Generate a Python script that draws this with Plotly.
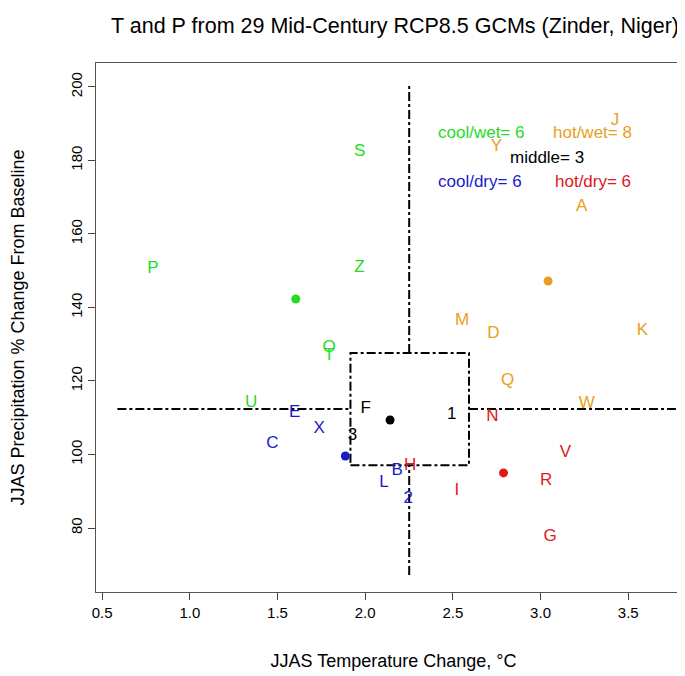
import plotly.graph_objects as go

labels = ["S","P","Z","O","T","U","E","X","C","3","F","1","B","L","2","H","I","N","V","R","G","M","D","Q","W","K","A","J","Y"]
tx = [1.968,0.789,1.968,1.795,1.795,1.35,1.598,1.737,1.471,1.928,2.003,2.494,2.182,2.107,2.246,2.257,2.523,2.725,3.142,3.032,3.055,2.552,2.731,2.812,3.263,3.581,3.234,3.425,2.749]
py = [182.3,150.5,150.8,129.0,126.8,114.0,111.3,106.9,102.8,105.0,112.4,110.7,95.5,92.2,87.9,96.9,90.1,110.2,100.4,92.8,77.6,136.3,132.8,120.0,113.7,133.6,167.3,190.7,183.7]
grp = ["cw","cw","cw","cw","cw","cw","cd","cd","cd","m","m","m","cd","cd","cd","hd","hd","hd","hd","hd","hd","hw","hw","hw","hw","hw","hw","hw","hw"]
colors = {"cw":"#22dd22","cd":"#1a1acc","hd":"#e01818","hw":"#e8a020","m":"black"}
cx = [1.604,3.043,1.887,2.789,2.142]
cy = [142.3,147.2,99.6,95.0,109.4]
cgrp = ["cw","hw","cd","hd","m"]
vline_x = 2.251; hline_y = 112.4
box_x = [1.916,2.592]; box_y = [97.1,127.6]

fig = go.Figure()
dash = dict(color="black", width=2, dash="dashdot")
lines = [([vline_x,vline_x],[box_y[1],201]),([vline_x,vline_x],[67.2,box_y[0]]),
         ([0.587,box_x[0]],[hline_y,hline_y]),([box_x[1],3.772],[hline_y,hline_y]),
         ([box_x[0],box_x[1],box_x[1],box_x[0],box_x[0]],[box_y[0],box_y[0],box_y[1],box_y[1],box_y[0]])]
for lx, ly in lines:
    fig.add_trace(go.Scatter(x=lx, y=ly, mode="lines", line=dash, hoverinfo="skip"))
fig.add_trace(go.Scatter(x=tx, y=py, mode="text", text=labels,
    textfont=dict(size=17, color=[colors[g] for g in grp], family="Liberation Sans")))
fig.add_trace(go.Scatter(x=cx, y=cy, mode="markers",
    marker=dict(size=9, color=[colors[g] for g in cgrp])))
summ = [("cool/wet= 6",2.662,187.5,"cw"),("hot/wet= 8",3.298,187.5,"hw"),("middle= 3",3.038,180.7,"m"),
        ("cool/dry= 6",2.656,174.4,"cd"),("hot/dry= 6",3.298,174.4,"hd")]
for t,x,y,g in summ:
    fig.add_annotation(x=x,y=y,text=t,showarrow=False,font=dict(size=17,color=colors[g]))
fig.update_layout(width=685,height=676,plot_bgcolor="white",paper_bgcolor="white",showlegend=False,
    margin=dict(l=88,r=2,t=55,b=92),
    font=dict(family="Liberation Sans",size=15,color="black"),
    title=dict(text="T and P from 29 Mid-Century RCP8.5 GCMs (Zinder, Niger)",x=0.565,xanchor="center",y=0.985,font=dict(size=21.5)),
    xaxis=dict(range=[0.465,3.858],tickvals=[0.5,1,1.5,2,2.5,3,3.5],ticktext=["0.5","1.0","1.5","2.0","2.5","3.0","3.5"],
        showgrid=False,zeroline=False,showline=True,linecolor="#555",mirror=True,ticks="outside",ticklen=7,
        title=dict(text="JJAS Temperature Change, °C",standoff=34)),
    yaxis=dict(range=[62.6,206.5],tickvals=[80,100,120,140,160,180,200],tickangle=-90,
        showgrid=False,zeroline=False,showline=True,linecolor="#555",mirror=True,ticks="outside",ticklen=7,
        title=dict(text="JJAS Precipitation % Change From Baseline",standoff=40)))
fig.write_html("out.html")
